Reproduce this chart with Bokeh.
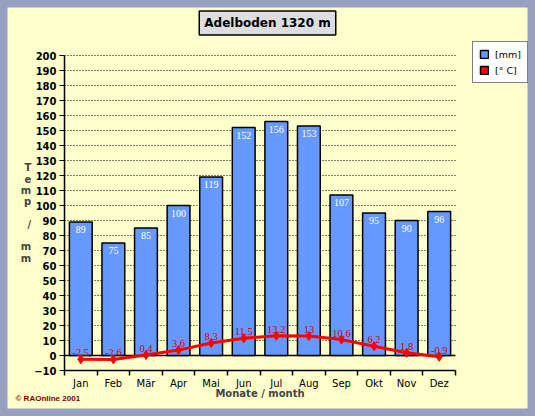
from bokeh.plotting import figure
from bokeh.models import (ColumnDataSource, FixedTicker, Grid, Legend, LegendItem,
                          Label, Range1d, LabelSet)
from bokeh.embed import file_html
from bokeh.resources import INLINE

months = ["Jan", "Feb", "Mär", "Apr", "Mai", "Jun", "Jul", "Aug", "Sep", "Okt", "Nov", "Dez"]
precip = [89, 75, 85, 100, 119, 152, 156, 153, 107, 95, 90, 96]
temp = [-2.5, -2.6, 0.4, 3.6, 8.3, 11.5, 13.2, 13, 10.6, 6.2, 1.8, -0.9]
y_ticks = list(range(-10, 201, 10))
title_text = "Adelboden 1320 m"
x_label = "Monate / month"
y_label = "T\ne\nm\np\n\n/\n\nm\nm"
credit = "©  RAOnline 2001"

pos = list(range(1, len(months) + 1))
src = ColumnDataSource(dict(x=pos, month=months, precip=precip, temp=temp,
                            plab=[str(v) for v in precip],
                            tlab=[f"{v:g}" for v in temp]))

BG = "#FFFFCC"
FONT = "DejaVu Sans"
W, H = 535, 416

# layout geometry (pixels): plot area of the chart inside the full-canvas frame
PL, PR, PT, PB = 64, 455, 55, 370
X0, X1 = 0.5, len(months) + 0.5
Y0, Y1 = y_ticks[0], y_ticks[-1]
sx = (PR - PL) / (X1 - X0)
sy = (PB - PT) / (Y1 - Y0)
x_rng = Range1d(X0 - PL / sx, X1 + (W - PR) / sx)
y_rng = Range1d(Y0 - (H - PB) / sy, Y1 + PT / sy)


def setp(obj, **kw):
    props = obj.properties()
    for k, v in kw.items():
        if k in props:
            setattr(obj, k, v)


p = figure(width=W, height=H, output_backend="svg", toolbar_location=None,
           x_range=x_rng, y_range=y_rng, title=None,
           min_border_left=0, min_border_right=0, min_border_top=0, min_border_bottom=0)
p.background_fill_color = BG
p.border_fill_color = BG
# bevel-like frame around the picture
p.outline_line_color = "#98A0C0"
p.outline_line_width = 14

# grid
p.xgrid.grid_line_color = None
p.ygrid.ticker = FixedTicker(ticks=[t for t in y_ticks if t > 0])
p.ygrid.grid_line_color = "black"
p.ygrid.grid_line_dash = "1 2"
p.ygrid.grid_line_width = 1
p.ygrid.bounds = (Y0, Y1)
setp(p.ygrid[0], cross_bounds=(X0, X1))
zero_grid = Grid(dimension=1, ticker=FixedTicker(ticks=[0]),
                 grid_line_color="black", grid_line_width=1.5)
setp(zero_grid, cross_bounds=(X0, X1))
p.add_layout(zero_grid)

# y axis (fixed inside the canvas-wide frame)
ya = p.yaxis[0]
ya.fixed_location = X0
ya.bounds = (Y0, Y1)
ya.ticker = FixedTicker(ticks=y_ticks)
ya.major_label_text_font = FONT
ya.major_label_text_font_style = "bold"
ya.major_label_text_font_size = "10px"
ya.major_label_text_color = "black"
ya.major_tick_in = 0
ya.major_tick_out = 5
ya.minor_tick_line_color = None
ya.axis_line_width = 1.5
ya.axis_line_color = "black"
ya.major_label_standoff = 3
ya.axis_label = y_label
ya.axis_label_text_font = FONT
ya.axis_label_text_font_style = "bold"
ya.axis_label_text_font_size = "10px"
ya.axis_label_standoff = 0
setp(ya, axis_label_orientation="horizontal", axis_label_text_line_height=1.03)

# x axis: month labels at centres, tick marks between months
xa = p.xaxis[0]
xa.fixed_location = Y0
xa.bounds = (X0, X1)
xa.ticker = FixedTicker(ticks=pos, minor_ticks=[x - 0.5 for x in pos] + [X1])
xa.major_label_overrides = {x: m for x, m in zip(pos, months)}
xa.major_tick_line_color = None
xa.major_tick_in = 0
xa.major_tick_out = 0
xa.minor_tick_in = 0
xa.minor_tick_out = 5
xa.minor_tick_line_color = "black"
xa.minor_tick_line_width = 1.5
xa.axis_line_width = 1.5
xa.axis_line_color = "black"
xa.major_label_text_font = FONT
xa.major_label_text_font_size = "10px"
xa.major_label_text_color = "black"
xa.major_label_standoff = 2
xa.axis_label = x_label
xa.axis_label_text_font = FONT
xa.axis_label_text_font_style = "bold"
xa.axis_label_text_font_size = "10px"
xa.axis_label_standoff = -4

# bars
bars = p.vbar(x="x", top="precip", bottom=0, width=0.7, source=src,
              fill_color="#6699FF", line_color="black", line_width=1.5)

# temperature line
tline = p.line(x="x", y="temp", source=src, line_color="#FF0000", line_width=3)
p.scatter(x="x", y="temp", source=src, marker="diamond", size=9,
          fill_color="#FF0000", line_color="#FF0000")

# value labels
p.add_layout(LabelSet(x="x", y="precip", text="plab", source=src,
                      text_align="center", text_baseline="top", y_offset=-4,
                      text_color="white", text_font=FONT, text_font_size="10px"))
p.add_layout(LabelSet(x="x", y="temp", text="tlab", source=src,
                      text_align="center", text_baseline="bottom", y_offset=3,
                      text_color="#CC0000", text_font=FONT, text_font_size="10.5px"))

# legend
red_sq = p.vbar(x="x", top="temp", width=0.7, source=src, visible=False,
                fill_color="#FF0000", line_color="black", line_width=1.5)
legend = Legend(items=[LegendItem(label="[mm]", renderers=[bars]),
                       LegendItem(label="[° C]", renderers=[red_sq])],
                location=(472, H - 83), orientation="vertical",
                background_fill_color="white", background_fill_alpha=1,
                border_line_color="black", border_line_width=1.5,
                label_text_font=FONT, label_text_font_size="9.5px", label_text_color="black",
                glyph_width=10, glyph_height=10, label_height=12, label_standoff=6,
                padding=6, spacing=4, margin=0, inactive_fill_alpha=0)
p.add_layout(legend, "center")

# title box
tl = Label(x=267, y=H - 22.5, x_units="screen", y_units="screen", text=title_text,
           text_align="center", text_baseline="middle",
           text_font=FONT, text_font_style="bold", text_font_size="12px", text_color="black",
           background_fill_color="#DDDDDD", border_line_color="black", border_line_width=1.5)
setp(tl, padding=5)
p.add_layout(tl)

# credit
cr = Label(x=15, y=H - 398, x_units="screen", y_units="screen", text=credit,
           text_align="left", text_baseline="middle",
           text_font="Liberation Sans", text_font_style="bold", text_font_size="8px",
           text_color="#800000")
p.add_layout(cr)

open("out.html", "w").write(file_html(p, INLINE))
